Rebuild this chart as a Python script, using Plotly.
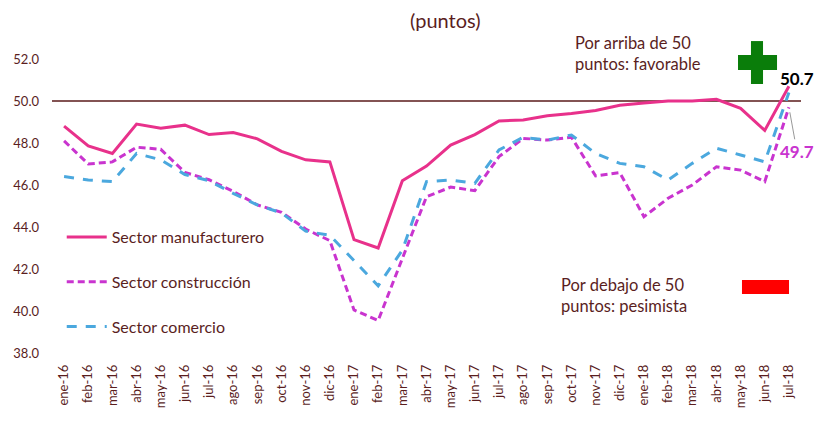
import plotly.graph_objects as go

months = ["ene-16", "feb-16", "mar-16", "abr-16", "may-16", "jun-16", "jul-16", "ago-16",
          "sep-16", "oct-16", "nov-16", "dic-16", "ene-17", "feb-17", "mar-17", "abr-17",
          "may-17", "jun-17", "jul-17", "ago-17", "sep-17", "oct-17", "nov-17", "dic-17",
          "ene-18", "feb-18", "mar-18", "abr-18", "may-18", "jun-18", "jul-18"]

manufacturero = [48.8, 47.86, 47.5, 48.9, 48.7, 48.85, 48.4, 48.5, 48.2, 47.6, 47.2, 47.1,
                 43.4, 43.0, 46.2, 46.9, 47.9, 48.4, 49.05, 49.1, 49.3, 49.4, 49.55, 49.8,
                 49.9, 50.0, 50.0, 50.08, 49.65, 48.6, 50.7]

construccion = [48.1, 47.0, 47.1, 47.8, 47.7, 46.6, 46.25, 45.7, 45.05, 44.7, 43.9, 43.35,
                40.05, 39.55, 42.5, 45.44, 45.9, 45.73, 47.35, 48.22, 48.14, 48.27, 46.43, 46.59,
                44.49, 45.37, 46.0, 46.87, 46.71, 46.16, 49.7]

comercio = [46.4, 46.24, 46.16, 47.5, 47.2, 46.5, 46.2, 45.6, 45.05, 44.67, 43.8, 43.6,
            42.4, 41.2, 42.9, 46.16, 46.24, 46.08, 47.67, 48.27, 48.14, 48.38, 47.5, 47.03,
            46.87, 46.24, 47.03, 47.75, 47.43, 47.1, 50.4]

y_ticks = [38, 40, 42, 44, 46, 48, 50, 52]

FONT = "Lato"
TXT = "#5A1E1E"
PINK = "#E8318B"
MAGENTA = "#C934CF"
BLUE = "#4BA8DE"

fig = go.Figure()
fig.add_trace(go.Scatter(x=months, y=manufacturero, mode="lines", name="Sector manufacturero",
                         line=dict(color=PINK, width=3), legendgroup="a"))
fig.add_trace(go.Scatter(x=months, y=construccion, mode="lines", name="Sector construcción",
                         line=dict(color=MAGENTA, width=3, dash="7px,4px"), legendgroup="b"))
fig.add_trace(go.Scatter(x=months, y=comercio, mode="lines", name="Sector comercio",
                         line=dict(color=BLUE, width=3, dash="10px,9px"), legendgroup="c"))

shapes = [
    dict(type="line", xref="paper", yref="y", x0=0, x1=1, y0=50, y1=50,
         line=dict(color="#5A1A1A", width=1.5), layer="below"),
    dict(type="rect", xref="paper", yref="paper", x0=0.9332, x1=0.9493, y0=0.915, y1=1.061,
         fillcolor="#0A7D0A", line=dict(width=0)),
    dict(type="rect", xref="paper", yref="paper", x0=0.9159, x1=0.968, y0=0.9626, y1=1.0136,
         fillcolor="#0A7D0A", line=dict(width=0)),
    dict(type="rect", xref="paper", yref="paper", x0=0.9212, x1=0.984, y0=0.2007, y1=0.2483,
         fillcolor="#FF0000", line=dict(width=0)),
]

annotations = [
    dict(text="(puntos)", xref="paper", yref="paper", x=(445 - 52) / 749, y=(353 - 20) / 294,
         xanchor="center", yanchor="middle", showarrow=False,
         font=dict(family=FONT, size=20, color=TXT)),
    dict(text="Por arriba de 50<br>puntos: favorable", xref="paper", yref="paper",
         x=0.6956, y=1.0187, xanchor="left", yanchor="middle", align="left", showarrow=False,
         font=dict(family=FONT, size=16.5, color=TXT)),
    dict(text="Por debajo de 50<br>puntos: pesimista", xref="paper", yref="paper",
         x=0.6769, y=0.197, xanchor="left", yanchor="middle", align="left", showarrow=False,
         font=dict(family=FONT, size=16.5, color=TXT)),
    dict(text="<b>50.7</b>", x=months[-1], y=manufacturero[-1], xanchor="center", yanchor="middle",
         xshift=8, yshift=8, showarrow=False, font=dict(family=FONT, size=17, color="#000000")),
    dict(text="<b>49.7</b>", x=months[-1], y=construccion[-1], showarrow=True, arrowhead=0,
         arrowwidth=1, arrowcolor="#999999", ax=8, ay=44, standoff=5,
         font=dict(family=FONT, size=17, color=MAGENTA)),
]

# page body has an 8px default margin, so the figure is drawn 8px smaller
fig.update_layout(
    width=816, height=419,
    margin=dict(l=44, r=23, t=51, b=74),
    plot_bgcolor="white", paper_bgcolor="white",
    font=dict(family=FONT, color=TXT),
    shapes=shapes, annotations=annotations,
    showlegend=True,
    legend=dict(x=0.013, y=0.452, xanchor="left", yanchor="top", bgcolor="rgba(0,0,0,0)",
                font=dict(family=FONT, size=16, color=TXT), tracegroupgap=21,
                itemwidth=40),
)
fig.update_xaxes(type="category", categoryorder="array", categoryarray=months,
                 range=[-0.5, 30.5], showgrid=False, zeroline=False, showline=False,
                 tickangle=-90, tickfont=dict(family=FONT, size=13, color=TXT), ticks="",
                 ticklabelstandoff=8, automargin=False)
fig.update_yaxes(range=[38, 52], tickvals=y_ticks, tickformat=".1f", showgrid=False,
                 zeroline=False, showline=False, ticks="", ticklabelstandoff=12,
                 automargin=False, tickfont=dict(family=FONT, size=13, color=TXT))

fig.write_html("out.html")
